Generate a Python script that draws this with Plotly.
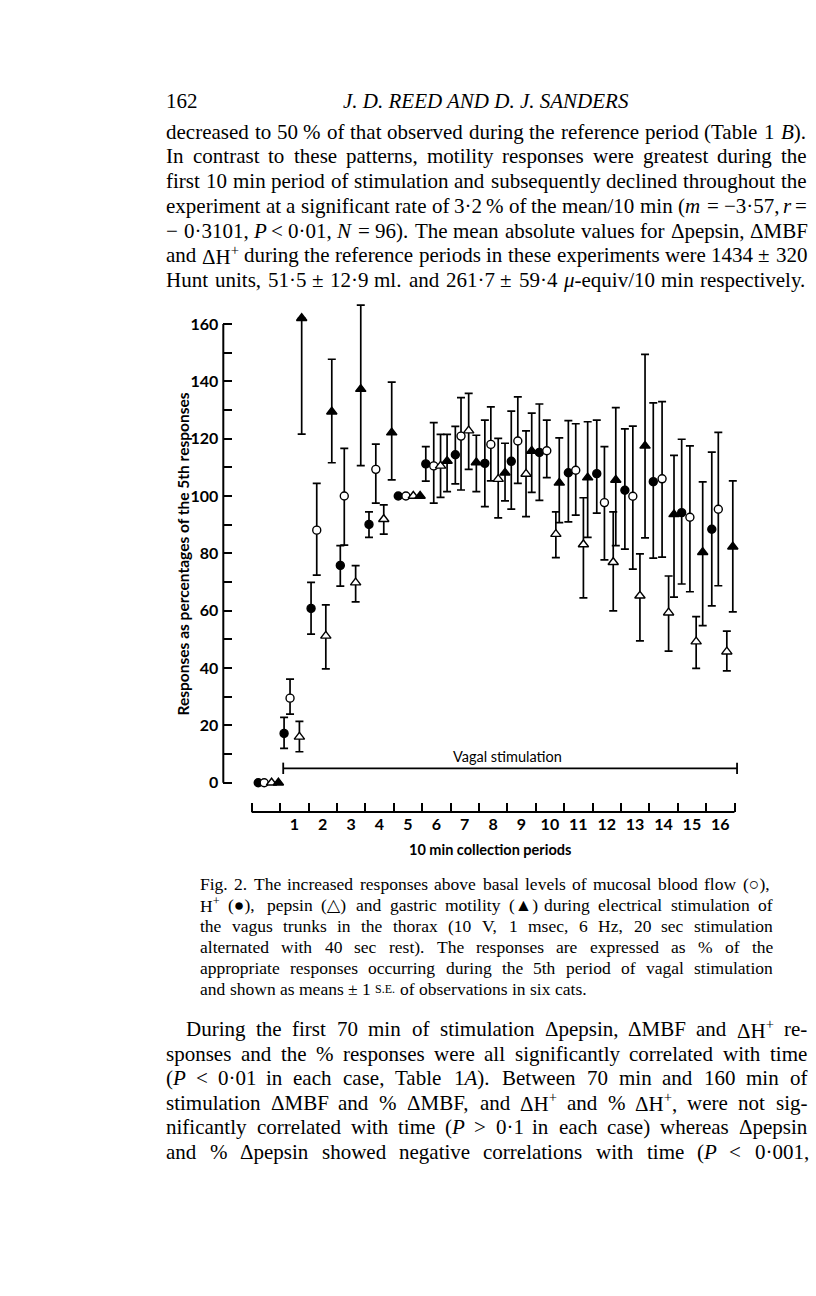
import re
import plotly.graph_objects as go

W, H = 816, 1296

# ---------------- chart data ----------------
period_labels = [str(p) for p in range(1, 17)]
label_pos = [p + 0.5 for p in range(1, 17)]
period_bounds = list(range(0, 18))
y_major = [0, 20, 40, 60, 80, 100, 120, 140, 160]
y_minor = [10, 30, 50, 70, 90, 110, 130, 150]

# H+ (filled circle)
h_x    = [0.23, 1.14, 2.09, 3.12, 4.13, 5.16, 6.13, 7.17, 8.21, 9.14, 10.13, 11.15, 12.15, 13.14, 14.14, 15.14, 16.20]
h_mean = [0, 17.2, 60.8, 75.8, 90.1, 100, 111.2, 114.4, 111.4, 112.1, 115.2, 108.1, 107.8, 102.0, 105.0, 94.2, 88.4]
h_lo   = [None, 12.0, 51.8, 68.6, 85.6, None, 105.2, 104.2, 96.3, 95.4, 98.5, 91.0, 94.0, 81.5, 78.3, 69.3, 61.7]
h_hi   = [None, 22.8, 69.9, 82.7, 94.5, None, 117.2, 124.3, 126.5, 129.6, 132.1, 126.3, 126.5, 123.4, 132.5, 119.8, 115.3]

# mucosal blood flow (open circle)
m_x    = [0.44, 1.35, 2.29, 3.26, 4.37, 5.43, 6.41, 7.37, 8.42, 9.37, 10.39, 11.41, 12.42, 13.42, 14.45, 15.43, 16.43]
m_mean = [0, 29.5, 88.1, 100.0, 109.3, 100, 110.5, 120.9, 118.0, 119.2, 115.8, 109.0, 97.7, 99.9, 106.0, 92.6, 95.4]
m_lo   = [None, 23.9, 72.4, 82.9, 97.5, None, 97.5, 102.1, 105.3, 104.4, 106.4, 93.3, 77.7, 74.5, 78.7, 66.6, 68.7]
m_hi   = [None, 36.1, 104.4, 116.6, 118.1, None, 125.6, 134.3, 131.1, 134.6, 126.5, 125.2, 117.2, 124.4, 132.9, 117.5, 122.2]

# pepsin (open triangle)
p_x    = [0.70, 1.68, 2.61, 3.66, 4.65, 5.69, 6.65, 7.64, 8.68, 9.66, 10.71, 11.68, 12.73, 13.67, 14.68, 15.65, 16.73]
p_mean = [0, 16.0, 51.2, 69.8, 91.9, 100, 110.5, 122.8, 105.9, 107.7, 86.7, 83.1, 76.9, 65.2, 59.3, 49.2, 45.7]
p_lo   = [None, 10.8, 39.7, 63.1, 86.7, None, 99.5, 109.3, 92.4, 92.8, 78.5, 64.5, 59.9, 49.5, 45.9, 39.9, 39.0]
p_hi   = [None, 21.4, 62.0, 75.7, 96.9, None, 121.5, 135.8, 120.1, 122.7, 94.5, 99.4, 94.5, 79.8, 72.1, 57.9, 52.9]

# gastric motility (filled triangle)
g_x    = [0.94, 1.76, 2.82, 3.84, 4.93, 5.93, 6.88, 7.91, 8.92, 9.86, 10.83, 11.83, 12.82, 13.85, 14.87, 15.88, 16.94]
g_mean = [0, 162.0, 129.4, 137.3, 122.1, 100, 112.2, 111.7, 108.1, 115.7, 104.6, 106.4, 105.6, 117.5, 93.6, 80.4, 82.3]
g_lo   = [None, 121.6, 111.6, 110.6, 105.6, None, 101.5, 101.5, 98.3, 101.3, 90.7, 85.6, 82.7, 85.4, 64.7, 54.8, 59.6]
g_hi   = [None, 162.0, 147.7, 166.6, 139.7, None, 121.5, 121.2, 118.4, 128.9, 120.3, 125.9, 130.8, 149.4, 114.2, 104.9, 105.3]

stim_start, stim_end, stim_level = 1.11, 17.09, 5.0

# ---------------- page text ----------------
header_page = "162"
header_title = "<i>J. D. REED AND D. J. SANDERS</i>"
para_top = [
    "decreased to 50 % of that observed during the reference period (Table 1 <i>B</i>).",
    "In contrast to these patterns, motility responses were greatest during the",
    "first 10 min period of stimulation and subsequently declined throughout the",
    "experiment at a significant rate of 3·2 % of the mean/10 min (<i>m</i> = −3·57, <i>r</i> =",
    "− 0·3101, <i>P</i> &lt; 0·01, <i>N</i> = 96). The mean absolute values for Δpepsin, ΔMBF",
    "and ΔH<sup>+</sup> during the reference periods in these experiments were 1434 ± 320",
    "Hunt units, 51·5 ± 12·9 ml. and 261·7 ± 59·4 <i>μ</i>-equiv/10 min respectively.",
]
caption = [
    "Fig. 2. The increased responses above basal levels of mucosal blood flow (○),",
    "H<sup>+</sup> (●), pepsin (△) and gastric motility (▲) during electrical stimulation of",
    "the vagus trunks in the thorax (10 V, 1 msec, 6 Hz, 20 sec stimulation",
    "alternated with 40 sec rest). The responses are expressed as % of the",
    "appropriate responses occurring during the 5th period of vagal stimulation",
    "and shown as means ± 1 <span style=\"font-size:12px\">S.E.</span> of observations in six cats.",
]
para_bottom = [
    "During the first 70 min of stimulation Δpepsin, ΔMBF and ΔH<sup>+</sup> re-",
    "sponses and the % responses were all significantly correlated with time",
    "(<i>P</i> &lt; 0·01 in each case, Table 1<i>A</i>). Between 70 min and 160 min of",
    "stimulation ΔMBF and % ΔMBF, and ΔH<sup>+</sup> and % ΔH<sup>+</sup>, were not sig-",
    "nificantly correlated with time (<i>P</i> &gt; 0·1 in each case) whereas Δpepsin",
    "and % Δpepsin showed negative correlations with time (<i>P</i> &lt; 0·001,",
]

# ---------------- layout constants ----------------
Y0_PX, Y160_PX = 782.7, 324.0
YS = (Y0_PX - Y160_PX) / 160.0
Y_RANGE = [-3.5, 170]
X0_PX, XS = 251.7, 28.4
AX_LEFT_PX, AX_RIGHT_PX = 223.3, 760.0
X_RANGE = [(AX_LEFT_PX - X0_PX) / XS, (AX_RIGHT_PX - X0_PX) / XS]
XAXIS_PX = 812.0

SANS = "Lato, 'Open Sans', sans-serif"
SERIF = "'Liberation Serif', 'DejaVu Serif', serif"

fig = go.Figure()

series = [
    (h_x, h_mean, h_lo, h_hi, "circle", "black", 8),
    (m_x, m_mean, m_lo, m_hi, "circle", "white", 8),
    (p_x, p_mean, p_lo, p_hi, "triangle-up", "white", 9),
    (g_x, g_mean, g_lo, g_hi, "triangle-up", "black", 9),
]
for xs, mean, lo, hi, sym, fill, size in series:
    ex = [x for x, l in zip(xs, lo) if l is not None]
    ey = [m for m, l in zip(mean, lo) if l is not None]
    eplus = [h - m for m, l, h in zip(mean, lo, hi) if l is not None]
    eminus = [m - l for m, l in zip(mean, lo) if l is not None]
    fig.add_trace(go.Scatter(
        x=ex, y=ey, mode="markers", cliponaxis=False,
        marker=dict(symbol=sym, size=size, color=fill, line=dict(color="black", width=1.4)),
        error_y=dict(type="data", symmetric=False, array=eplus, arrayminus=eminus,
                     color="black", thickness=1.7, width=4),
        hoverinfo="skip"))
    nx = [x for x, l in zip(xs, lo) if l is None]
    ny = [m for m, l in zip(mean, lo) if l is None]
    fig.add_trace(go.Scatter(
        x=nx, y=ny, mode="markers", cliponaxis=False,
        marker=dict(symbol=sym, size=size, color=fill, line=dict(color="black", width=1.4)),
        hoverinfo="skip"))

tickfont = dict(family=SANS, size=16, color="black", weight="bold")
fig.update_layout(
    width=W, height=H, margin=dict(l=0, r=0, t=0, b=0),
    paper_bgcolor="white", plot_bgcolor="rgba(0,0,0,0)", showlegend=False,
    xaxis=dict(domain=[AX_LEFT_PX / W, AX_RIGHT_PX / W], range=X_RANGE,
               anchor="free", position=1 - XAXIS_PX / H,
               tickmode="array", tickvals=label_pos, ticktext=period_labels,
               ticks="", showline=False, showgrid=False, zeroline=False,
               tickfont=tickfont, ticklabelstandoff=1,
               minor=dict(tickmode="array", tickvals=period_bounds, ticks="inside",
                          ticklen=9, tickwidth=2, tickcolor="black", showgrid=False)),
    yaxis=dict(domain=[1 - (Y0_PX - Y_RANGE[0] * YS) / H, 1 - (Y0_PX - Y_RANGE[1] * YS) / H],
               range=Y_RANGE, anchor="x",
               tickmode="array", tickvals=y_major, ticktext=[str(v) for v in y_major],
               ticks="inside", ticklen=9, tickwidth=2, tickcolor="black",
               showline=False, showgrid=False, zeroline=False,
               tickfont=tickfont, ticklabelstandoff=4,
               minor=dict(tickmode="array", tickvals=y_minor, ticks="inside",
                          ticklen=9, tickwidth=2, tickcolor="black", showgrid=False)),
)

# axis lines
fig.add_shape(type="line", xref="x domain", yref="y", x0=0, x1=0, y0=y_major[0], y1=y_major[-1],
              line=dict(color="black", width=2))
fig.add_shape(type="line", xref="x", yref="paper", x0=period_bounds[0], x1=period_bounds[-1],
              y0=1 - XAXIS_PX / H, y1=1 - XAXIS_PX / H, line=dict(color="black", width=2))

# vagal stimulation bracket
fig.add_shape(type="line", xref="x", yref="y", x0=stim_start, x1=stim_end, y0=stim_level, y1=stim_level,
              line=dict(color="black", width=1.6))
for xx in (stim_start, stim_end):
    fig.add_shape(type="line", xref="x", yref="y", x0=xx, x1=xx, y0=stim_level - 2.0, y1=stim_level + 2.0,
                  line=dict(color="black", width=1.8))
fig.add_annotation(x=(stim_start + stim_end) / 2 - 0.1, y=stim_level + 4.3, xref="x", yref="y",
                   text="Vagal stimulation", showarrow=False, yanchor="middle",
                   font=dict(family=SANS, size=14.5, color="black"))

# axis titles
fig.add_annotation(x=171 / W, y=1 - 554.5 / H, xref="paper", yref="paper", textangle=-90,
                   text="Responses as percentages of the 5th responses", showarrow=False,
                   font=dict(family=SANS, size=15.5, color="black", weight="bold"))
fig.add_annotation(x=490 / W, y=1 - 849 / H, xref="paper", yref="paper",
                   text="10 min collection periods", showarrow=False,
                   font=dict(family=SANS, size=14.5, color="black", weight="bold"))

# ---------------- justified text ----------------
TW = {' ': 250, '.': 250, ',': 250, ':': 278, ';': 278, '(': 333, ')': 333, '/': 278, '-': 333,
      '%': 833, '=': 564, '+': 564, '<': 564, '>': 564, '±': 549, '·': 250, '−': 564, 'Δ': 612,
      'μ': 500, '○': 800, '●': 800, '△': 800, '▲': 800}
for c, w in zip("abcdefghijklmnopqrstuvwxyz",
                [444, 500, 444, 500, 444, 333, 500, 500, 278, 278, 500, 278, 778, 500, 500, 500, 500,
                 333, 389, 278, 500, 500, 722, 500, 500, 444]):
    TW[c] = w
for c, w in zip("ABCDEFGHIJKLMNOPQRSTUVWXYZ",
                [722, 667, 667, 722, 611, 556, 722, 722, 333, 389, 722, 611, 889, 722, 722, 556, 722,
                 667, 556, 611, 722, 722, 944, 722, 722, 611]):
    TW[c] = w
for c in "0123456789":
    TW[c] = 500

TAG = re.compile(r"<(/?)(i|sup|span)([^>]*)>")


def text_width(s, size):
    s = s.replace("&lt;", "<").replace("&gt;", ">")
    total, scale, i = 0.0, 1.0, 0
    while i < len(s):
        m = TAG.match(s, i)
        if m:
            closing, name, _ = m.groups()
            if name == "sup":
                scale = 1.0 if closing else 0.7
            elif name == "span":
                scale = 1.0 if closing else 0.72
            i = m.end()
            continue
        total += TW.get(s[i], 500) * scale
        i += 1
    return total * size / 1000.0


def add_line(text, left, right, y, size, justify=True):
    words = re.split(r" (?![^<]*>)", text)
    widths = [text_width(w, size) for w in words]
    if justify and len(words) > 1:
        gap = (right - left - sum(widths)) / (len(words) - 1)
    else:
        gap = 250 * size / 1000.0
    x = left
    for w, wd in zip(words, widths):
        fig.add_annotation(x=x / W, y=1 - y / H, xref="paper", yref="paper", text=w,
                           showarrow=False, xanchor="left", yanchor="middle", borderpad=0,
                           font=dict(family=SERIF, size=size, color="black"))
        x += wd + gap


BODY = 21
CAP = 17.5
L, R = 165, 806
fig.add_annotation(x=L / W, y=1 - 101 / H, xref="paper", yref="paper", text=header_page,
                   showarrow=False, xanchor="left", yanchor="middle", borderpad=0,
                   font=dict(family=SERIF, size=BODY, color="black"))
fig.add_annotation(x=485.5 / W, y=1 - 101 / H, xref="paper", yref="paper", text=header_title,
                   showarrow=False, xanchor="center", yanchor="middle", borderpad=0,
                   font=dict(family=SERIF, size=BODY, color="black"))
for k, line in enumerate(para_top):
    add_line(line, L, R, 131.8 + 24.7 * k, BODY)
for k, line in enumerate(caption):
    add_line(line, 199, 772, 884 + 21.0 * k, CAP, justify=(k < len(caption) - 1))
for k, line in enumerate(para_bottom):
    add_line(line, L + (20 if k == 0 else 0), R, 1029 + 24.6 * k, BODY)

fig.write_html("out.html",
               config={"displayModeBar": False, "staticPlot": True},
               post_script="document.body.style.margin='0px';"
                           "document.documentElement.style.overflow='hidden';"
                           "document.body.style.overflow='hidden';")
